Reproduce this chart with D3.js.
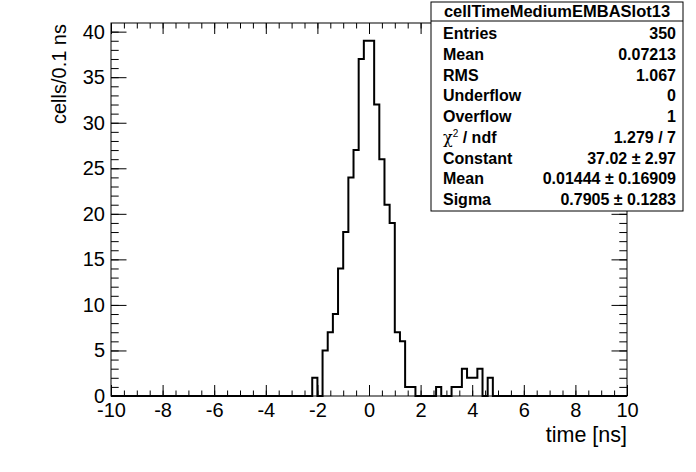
<!DOCTYPE html>
<html>
<head>
<meta charset="utf-8">
<script src="https://cdn.jsdelivr.net/npm/d3@7"></script>
<style>
  body { margin: 0; background: #fff; }
  svg { display: block; font-family: "Liberation Sans", Arial, sans-serif; }
</style>
</head>
<body>
<svg width="696" height="472"></svg>
<script>
// histogram bins (0.2 ns wide), only the filled ones
var binLow = [-2.2, -1.8, -1.6, -1.4, -1.2, -1.0, -0.8, -0.6, -0.4, -0.2,
              0.0, 0.2, 0.4, 0.6, 0.8, 1.0, 1.2, 1.4, 1.6,
              2.6, 3.2, 3.4, 3.6, 3.8, 4.0, 4.2, 4.6];
var counts = [2, 5, 7, 9, 14, 18, 24, 27, 37, 39,
              39, 32, 26, 21, 19, 7, 6, 1, 1,
              1, 1, 1, 3, 2, 2, 3, 2];
var binWidth = 0.2;
var xTicks = [-10, -8, -6, -4, -2, 0, 2, 4, 6, 8, 10];
var yTicks = [0, 5, 10, 15, 20, 25, 30, 35, 40];

// stats box rows
var statNames = ["Entries", "Mean", "RMS", "Underflow", "Overflow", "chi2", "Constant", "Mean", "Sigma"];
var statValues = ["350", "0.07213", "1.067", "0", "1", "1.279 / 7", "37.02 \u00b1 2.97", "0.01444 \u00b1 0.16909", "0.7905 \u00b1 0.1283"];

var svg = d3.select("svg");
var frame = { left: 111, right: 627, top: 23, bottom: 396 };

var x = d3.scaleLinear().domain([-10, 10]).range([frame.left, frame.right]);
var y = d3.scaleLinear().domain([0, 40.95]).range([frame.bottom, frame.top]);

// full 100 bins array
var nBins = Math.round(20 / binWidth);
var full = d3.range(nBins).map(function(i) { return 0; });
binLow.forEach(function(b, i) {
    full[Math.round((b + 10) / binWidth)] = counts[i];
});

// minor ticks
var xMinor = d3.range(-10, 10.001, 0.5);
var yMinor = d3.range(0, 40.5, 1);

// frame
svg.append("rect")
    .attr("x", frame.left).attr("y", frame.top)
    .attr("width", frame.right - frame.left)
    .attr("height", frame.bottom - frame.top)
    .attr("fill", "none").attr("stroke", "#000").attr("stroke-width", 1);

// histogram outline (step)
var pts = [[ -10, 0 ]];
full.forEach(function(c, i) {
    var lo = -10 + i * binWidth;
    pts.push([lo, c]);
    pts.push([lo + binWidth, c]);
});
pts.push([10, 0]);

var line = d3.line()
    .x(function(d) { return x(d[0]); })
    .y(function(d) { return y(d[1]); });

svg.append("path")
    .datum(pts)
    .attr("d", line)
    .attr("fill", "none")
    .attr("stroke", "#000")
    .attr("stroke-width", 2);

function styleAxis(g) {
    g.select(".domain").remove();
    g.selectAll("line").attr("stroke", "#000");
    g.selectAll("text").attr("font-size", 20).attr("fill", "#000")
        .attr("font-family", "'Liberation Sans', Arial, sans-serif");
}

// bottom axis
svg.append("g")
    .attr("transform", "translate(0," + frame.bottom + ")")
    .call(d3.axisBottom(x).tickValues(xTicks).tickSize(-11).tickPadding(7)
        .tickFormat(function(d) { return String(d); }))
    .call(styleAxis);
svg.append("g")
    .attr("transform", "translate(0," + frame.bottom + ")")
    .call(d3.axisBottom(x).tickValues(xMinor).tickSize(-5.5).tickFormat(""))
    .call(styleAxis);

// top ticks
svg.append("g")
    .attr("transform", "translate(0," + frame.top + ")")
    .call(d3.axisTop(x).tickValues(xTicks).tickSize(-11).tickFormat(""))
    .call(styleAxis);
svg.append("g")
    .attr("transform", "translate(0," + frame.top + ")")
    .call(d3.axisTop(x).tickValues(xMinor).tickSize(-5.5).tickFormat(""))
    .call(styleAxis);

// left axis
svg.append("g")
    .attr("transform", "translate(" + frame.left + ",0)")
    .call(d3.axisLeft(y).tickValues(yTicks).tickSize(-15.5).tickPadding(6))
    .call(styleAxis);
svg.append("g")
    .attr("transform", "translate(" + frame.left + ",0)")
    .call(d3.axisLeft(y).tickValues(yMinor).tickSize(-7.7).tickFormat(""))
    .call(styleAxis);

// right ticks
svg.append("g")
    .attr("transform", "translate(" + frame.right + ",0)")
    .call(d3.axisRight(y).tickValues(yTicks).tickSize(-15.5).tickFormat(""))
    .call(styleAxis);
svg.append("g")
    .attr("transform", "translate(" + frame.right + ",0)")
    .call(d3.axisRight(y).tickValues(yMinor).tickSize(-7.7).tickFormat(""))
    .call(styleAxis);

// axis titles
svg.append("text")
    .attr("x", frame.right).attr("y", 442)
    .attr("text-anchor", "end")
    .attr("font-size", 21.5)
    .text("time [ns]");

svg.append("text")
    .attr("transform", "translate(66," + (frame.top + 1) + ") rotate(-90)")
    .attr("text-anchor", "end")
    .attr("font-size", 20)
    .text("cells/0.1 ns");

// stats box
var box = { x: 431, y: 2, w: 252, h: 209 };
var stats = svg.append("g").attr("font-weight", "bold").attr("font-size", 16);

stats.append("rect")
    .attr("x", box.x).attr("y", box.y).attr("width", box.w).attr("height", box.h)
    .attr("fill", "#fff").attr("stroke", "#000").attr("stroke-width", 1);
stats.append("line")
    .attr("x1", box.x).attr("x2", box.x + box.w)
    .attr("y1", 21).attr("y2", 21)
    .attr("stroke", "#000");
stats.append("text")
    .attr("x", box.x + box.w / 2).attr("y", 17)
    .attr("text-anchor", "middle")
    .attr("font-size", 16.5)
    .text("cellTimeMediumEMBASlot13");

statNames.forEach(function(name, i) {
    var ty = 39 + i * 20.75;
    var t = stats.append("text").attr("x", box.x + 12).attr("y", ty);
    if (name === "chi2") {
        t.append("tspan").attr("font-weight", "normal").attr("font-family", "'DejaVu Serif', serif").text("\u03c7");
        t.append("tspan").attr("font-size", 10).attr("dy", -6).attr("font-weight", "normal").text("2");
        t.append("tspan").attr("dy", 6).text(" / ndf");
    } else {
        t.text(name);
    }
    stats.append("text")
        .attr("x", box.x + box.w - 7).attr("y", ty)
        .attr("text-anchor", "end")
        .text(statValues[i]);
});
</script>
</body>
</html>
